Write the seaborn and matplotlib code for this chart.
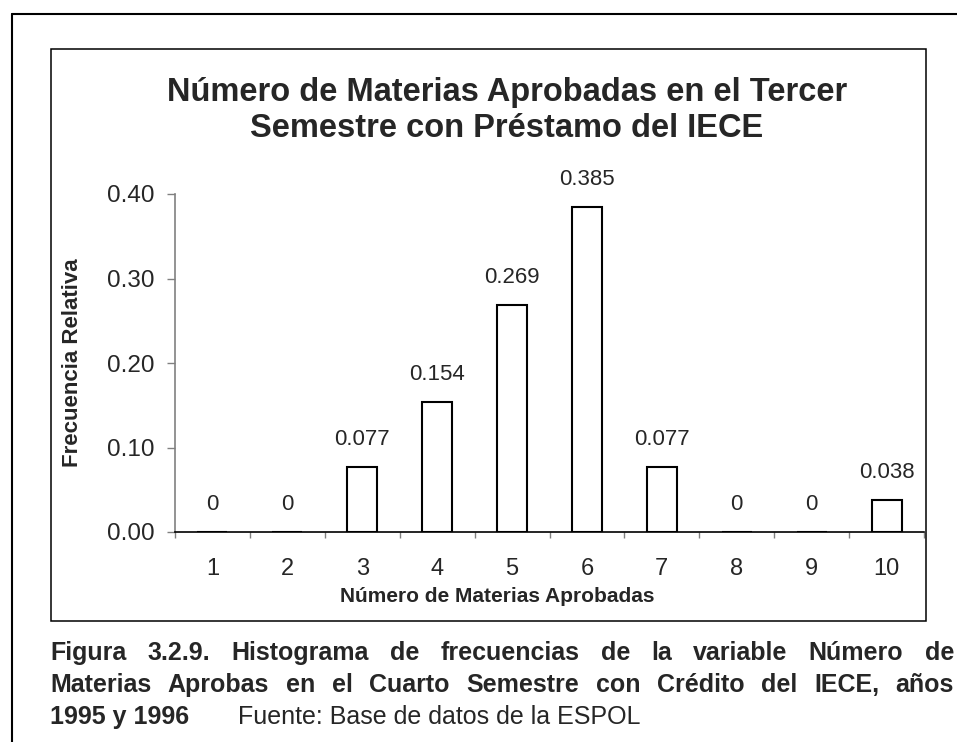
import matplotlib
matplotlib.use('Agg')
import matplotlib.pyplot as plt
import numpy as np
import seaborn as sns
from matplotlib.lines import Line2D
from matplotlib.patches import Rectangle

# Data
materias = ['1', '2', '3', '4', '5', '6', '7', '8', '9', '10']
frecuencia = [0, 0, 0.077, 0.154, 0.269, 0.385, 0.077, 0, 0, 0.038]
etiquetas = ['0', '0', '0.077', '0.154', '0.269', '0.385', '0.077', '0', '0', '0.038']
yticks = [0.0, 0.1, 0.2, 0.3, 0.4]

titulo = 'Número de Materias Aprobadas en el Tercer\nSemestre con Préstamo del IECE'
caption_l1 = 'Figura 3.2.9. Histograma de frecuencias de la variable Número de'
caption_l2 = 'Materias Aprobas en el Cuarto Semestre con Crédito del IECE, años'
caption_l3a = '1995 y 1996'
caption_l3b = 'Fuente: Base de datos de la ESPOL'

sns.set_style('white')
plt.rcParams['font.family'] = ['Liberation Sans', 'DejaVu Sans']

W, H = 957, 742
fig = plt.figure(figsize=(W / 100, H / 100), dpi=100)


def fx(px):
    return px / W


def fy(py):
    return 1 - py / H


# Borders
fig.add_artist(Line2D([fx(12), fx(12)], [fy(14), 0], color='black', lw=1.5,
                      transform=fig.transFigure))
fig.add_artist(Line2D([fx(12), 1], [fy(14), fy(14)], color='black', lw=1.5,
                      transform=fig.transFigure))
fig.add_artist(Rectangle((fx(51), fy(621)), fx(926) - fx(51), fy(49) - fy(621),
                         fill=False, edgecolor='black', lw=1.1,
                         transform=fig.transFigure))

# Axes
ax = fig.add_axes([fx(175), fy(532), fx(924) - fx(175), fy(194) - fy(532)])
sns.barplot(x=materias, y=frecuencia, order=materias, color='white',
            edgecolor='black', linewidth=1.5, width=0.4, saturation=1, ax=ax)
ax.bar_label(ax.containers[0], labels=etiquetas, padding=12, fontsize=16)

ax.set_xlim(-0.5, len(materias) - 0.5)
ax.set_ylim(0, 0.40)
ax.set_yticks(yticks)
ax.set_yticklabels([f'{v:.2f}' for v in yticks])
ax.set_xticks(np.arange(-0.5, len(materias), 1))
ax.set_xticklabels([])
ax.set_xticks(range(len(materias)), minor=True)
ax.set_xticklabels(materias, minor=True)
ax.tick_params(axis='x', which='major', direction='out', length=4, width=1,
               color='#808080', bottom=True)
ax.tick_params(axis='x', which='minor', length=0, pad=19, labelsize=17)
ax.tick_params(axis='y', direction='out', length=6, width=1, color='#808080',
               left=True, pad=9, labelsize=17.5)
for s in ['top', 'right']:
    ax.spines[s].set_visible(False)
ax.spines['left'].set_color('#808080')
ax.spines['left'].set_linewidth(1.2)
ax.spines['bottom'].set_color('black')
ax.spines['bottom'].set_linewidth(1.2)
ax.set_xlabel('')
ax.set_ylabel('')

# Titles and labels
fig.text(fx(507), fy(137), titulo, ha='center', va='baseline', fontsize=23.5,
         fontweight='bold', linespacing=1.22)
fig.text(fx(72), fy(363), 'Frecuencia Relativa', rotation=90, ha='center',
         va='center', fontsize=16, fontweight='bold')
fig.text(fx(497), fy(596), 'Número de Materias Aprobadas', ha='center',
         va='center', fontsize=15, fontweight='bold')

# Justified caption
renderer = fig.canvas.get_renderer()


def justified(line, y, x0, x1, size=18):
    words = line.split(' ')
    texts = [fig.text(0, fy(y), w, fontsize=size, fontweight='bold',
                      va='baseline') for w in words]
    widths = [t.get_window_extent(renderer).width for t in texts]
    gap = (x1 - x0 - sum(widths)) / (len(words) - 1)
    x = x0
    for t, w in zip(texts, widths):
        t.set_x(fx(x))
        x += w + gap


justified(caption_l1, 660, 50, 954)
justified(caption_l2, 692, 50, 954)
fig.text(fx(50), fy(724), caption_l3a, fontsize=18, fontweight='bold', va='baseline')
fig.text(fx(238), fy(724), caption_l3b, fontsize=18, va='baseline')

fig.savefig('out.png', dpi=100)
